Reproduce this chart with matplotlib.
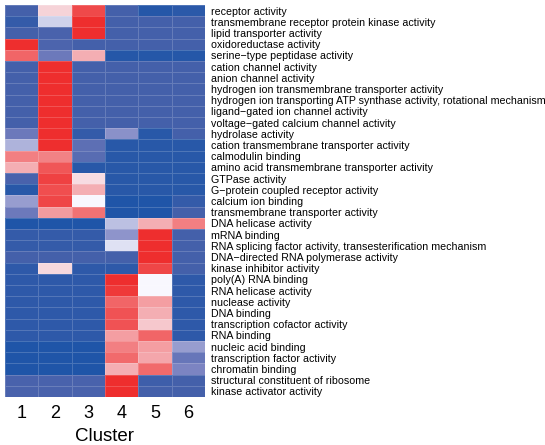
import matplotlib
matplotlib.use('Agg')
import matplotlib.pyplot as plt
from matplotlib import font_manager
from matplotlib.colors import LinearSegmentedColormap
import numpy as np

# GO terms (top to bottom)
terms = [
    'receptor activity',
    'transmembrane receptor protein kinase activity',
    'lipid transporter activity',
    'oxidoreductase activity',
    'serine\u2212type peptidase activity',
    'cation channel activity',
    'anion channel activity',
    'hydrogen ion transmembrane transporter activity',
    'hydrogen ion transporting ATP synthase activity, rotational mechanism',
    'ligand\u2212gated ion channel activity',
    'voltage\u2212gated calcium channel activity',
    'hydrolase activity',
    'cation transmembrane transporter activity',
    'calmodulin binding',
    'amino acid transmembrane transporter activity',
    'GTPase activity',
    'G\u2212protein coupled receptor activity',
    'calcium ion binding',
    'transmembrane transporter activity',
    'DNA helicase activity',
    'mRNA binding',
    'RNA splicing factor activity, transesterification mechanism',
    'DNA\u2212directed RNA polymerase activity',
    'kinase inhibitor activity',
    'poly(A) RNA binding',
    'RNA helicase activity',
    'nuclease activity',
    'DNA binding',
    'transcription cofactor activity',
    'RNA binding',
    'nucleic acid binding',
    'transcription factor activity',
    'chromatin binding',
    'structural constituent of ribosome',
    'kinase activator activity',
]

clusters = ['1', '2', '3', '4', '5', '6']

# scaled enrichment per term, one column per cluster
values = [
    [0.12, 0.59, 0.93, 0.12, 0.02, 0.04],
    [0.07, 0.43, 1.00, 0.12, 0.12, 0.12],
    [0.12, 0.13, 1.00, 0.12, 0.12, 0.12],
    [1.00, 0.14, 0.12, 0.12, 0.12, 0.12],
    [0.86, 0.22, 0.68, 0.02, 0.02, 0.02],
    [0.12, 1.00, 0.12, 0.12, 0.12, 0.12],
    [0.12, 1.00, 0.12, 0.12, 0.12, 0.12],
    [0.12, 1.00, 0.12, 0.12, 0.12, 0.12],
    [0.12, 1.00, 0.12, 0.12, 0.12, 0.12],
    [0.12, 1.00, 0.12, 0.12, 0.12, 0.12],
    [0.12, 1.00, 0.12, 0.12, 0.12, 0.12],
    [0.22, 1.00, 0.07, 0.29, 0.03, 0.12],
    [0.37, 1.00, 0.18, 0.03, 0.03, 0.03],
    [0.80, 0.79, 0.17, 0.03, 0.03, 0.03],
    [0.68, 0.90, 0.03, 0.03, 0.03, 0.03],
    [0.13, 0.95, 0.57, 0.03, 0.03, 0.03],
    [0.03, 0.92, 0.68, 0.03, 0.03, 0.03],
    [0.32, 0.94, 0.50, 0.00, 0.00, 0.07],
    [0.22, 0.73, 0.83, 0.00, 0.00, 0.12],
    [0.00, 0.00, 0.00, 0.40, 0.68, 0.80],
    [0.07, 0.07, 0.07, 0.30, 1.00, 0.12],
    [0.07, 0.07, 0.07, 0.46, 1.00, 0.12],
    [0.12, 0.12, 0.12, 0.12, 1.00, 0.12],
    [0.05, 0.58, 0.05, 0.05, 0.94, 0.12],
    [0.05, 0.05, 0.05, 1.00, 0.50, 0.05],
    [0.05, 0.05, 0.05, 0.97, 0.50, 0.05],
    [0.05, 0.05, 0.05, 0.86, 0.72, 0.05],
    [0.05, 0.05, 0.05, 0.91, 0.68, 0.05],
    [0.05, 0.05, 0.05, 0.91, 0.62, 0.05],
    [0.05, 0.05, 0.05, 0.72, 0.86, 0.05],
    [0.00, 0.00, 0.00, 0.80, 0.72, 0.32],
    [0.00, 0.00, 0.00, 0.85, 0.70, 0.21],
    [0.00, 0.00, 0.00, 0.68, 0.85, 0.26],
    [0.13, 0.13, 0.13, 1.00, 0.10, 0.12],
    [0.13, 0.13, 0.13, 1.00, 0.12, 0.12],
]


def pick_font(names):
    for n in names:
        try:
            font_manager.findfont(n, fallback_to_default=False)
            return n
        except Exception:
            pass
    return 'DejaVu Sans'


label_font = pick_font(['Liberation Sans', 'DejaVu Sans'])

cmap = LinearSegmentedColormap.from_list('bwr_custom', [
    (0.00, '#1f55a8'),
    (0.12, '#4560aa'),
    (0.25, '#7880c0'),
    (0.40, '#bcc0e2'),
    (0.50, '#f8f8ff'),
    (1.00, '#ee2e2e'),
])

fig = plt.figure(figsize=(5.45, 4.45), dpi=100)
ax = fig.add_axes([5 / 545, 48 / 445, 200 / 545, 392 / 445])

data = np.array(values)
ax.pcolormesh(data, cmap=cmap, vmin=0, vmax=1,
              edgecolors=(1, 1, 1, 0.18), linewidth=0.5)
ax.set_xlim(0, len(clusters))
ax.set_ylim(len(terms), 0)

ax.set_xticks(np.arange(len(clusters)) + 0.5)
ax.set_xticklabels(clusters, fontsize=13, family=label_font)
ax.set_yticks(np.arange(len(terms)) + 0.5)
ax.set_yticklabels(terms, fontsize=7.7, family=label_font)
ax.yaxis.tick_right()
ax.tick_params(axis='y', length=0, pad=4)
ax.tick_params(axis='x', length=0, pad=6)
ax.set_xlabel('Cluster', fontsize=13.5, family=label_font, labelpad=4)

for s in ax.spines.values():
    s.set_visible(False)

fig.savefig('out.png', dpi=100)
